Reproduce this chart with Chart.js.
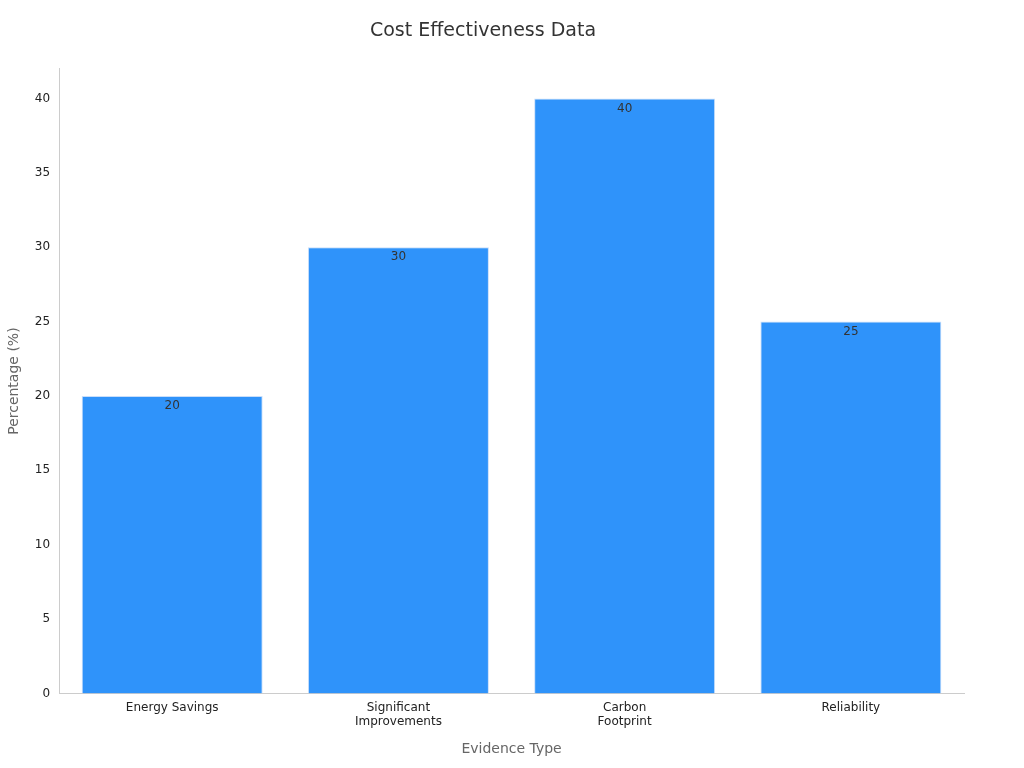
<!DOCTYPE html>
<html>
<head>
<meta charset="utf-8">
<script src="https://cdn.jsdelivr.net/npm/chart.js@4/dist/chart.umd.min.js"></script>
<style>
  body { margin: 0; background: #fff; }
</style>
</head>
<body>
<canvas id="myChart" width="1024" height="768"></canvas>
<script>
const categories = [['Energy Savings'], ['Significant', 'Improvements'], ['Carbon', 'Footprint'], ['Reliability']];
const percentages = [20, 30, 40, 25];
const yTicks = [0, 5, 10, 15, 20, 25, 30, 35, 40];

// value labels just under each bar top
const barLabels = {
    id: 'barLabels',
    afterDatasetsDraw(chart) {
        const ctx = chart.ctx;
        ctx.save();
        ctx.font = '12px "DejaVu Sans"';
        ctx.fillStyle = '#333';
        ctx.textAlign = 'center';
        ctx.textBaseline = 'top';
        chart.getDatasetMeta(0).data.forEach((bar, i) => {
            ctx.fillText(percentages[i], bar.x, bar.y + 4);
        });
        ctx.restore();
    }
};

Chart.defaults.font.family = '"DejaVu Sans", sans-serif';
Chart.defaults.animation = false;

new Chart(document.getElementById('myChart').getContext('2d'), {
    type: 'bar',
    data: {
        labels: categories,
        datasets: [{
            data: percentages,
            backgroundColor: '#2f93fa',
            borderColor: '#c9defa',
            borderWidth: 1,
            categoryPercentage: 1,
            barPercentage: 0.8
        }]
    },
    options: {
        responsive: false,
        devicePixelRatio: 1,
        layout: { padding: { left: 2, right: 60, top: 10, bottom: 6 } },
        plugins: {
            legend: { display: false },
            tooltip: { enabled: false },
            title: {
                display: true,
                text: 'Cost Effectiveness Data',
                color: '#333',
                font: { size: 19, weight: 'normal' },
                padding: { top: 10, bottom: 26 }
            }
        },
        scales: {
            x: {
                grid: { display: false, drawTicks: true, tickLength: 5 },
                border: { color: '#ccc' },
                ticks: { color: '#222', font: { size: 12 }, padding: 2 },
                title: { display: true, text: 'Evidence Type', color: '#666', font: { size: 14 }, padding: { top: 10 } }
            },
            y: {
                min: 0,
                max: 42,
                afterBuildTicks(axis) { axis.ticks = yTicks.map(v => ({ value: v })); },
                grid: { display: false, drawTicks: true, tickLength: 5 },
                border: { color: '#ccc' },
                ticks: { color: '#222', font: { size: 12 }, padding: 4 },
                title: { display: true, text: 'Percentage (%)', color: '#666', font: { size: 14 }, padding: { bottom: 8 } }
            }
        }
    },
    plugins: [barLabels]
});
</script>
</body>
</html>
